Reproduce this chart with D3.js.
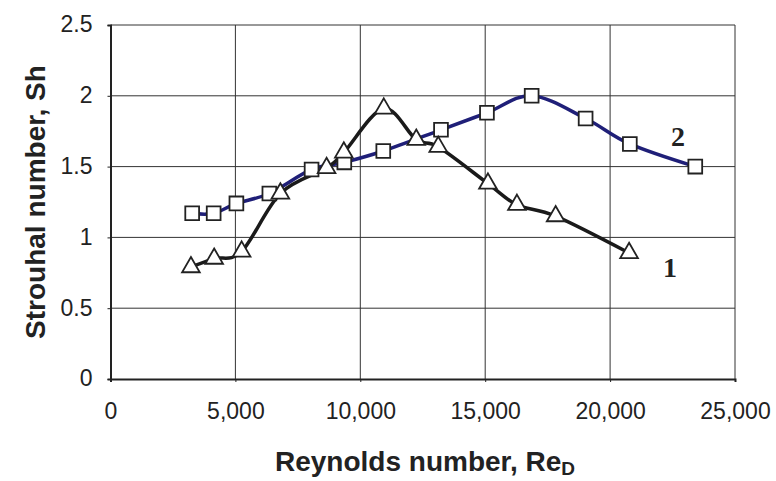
<!DOCTYPE html>
<html>
<head>
<meta charset="utf-8">
<script src="https://cdn.jsdelivr.net/npm/d3@7"></script>
<style>
  body { margin: 0; background: #fff; }
  svg { display: block; }
</style>
</head>
<body>
<div id="chart"></div>
<script>
// series 1 (triangles) and series 2 (squares)
const re1 = [3220, 4150, 5250, 6800, 8650, 9340, 10940, 12240, 13120, 15110, 16270, 17820, 20760];
const sh1 = [0.79, 0.85, 0.90, 1.31, 1.49, 1.60, 1.91, 1.69, 1.64, 1.38, 1.23, 1.15, 0.89];
const re2 = [3270, 4130, 5040, 6360, 8050, 9360, 10920, 13230, 15070, 16860, 19020, 20790, 23410];
const sh2 = [1.17, 1.17, 1.24, 1.31, 1.48, 1.53, 1.61, 1.76, 1.88, 2.00, 1.84, 1.66, 1.50];
const xTicks = [0, 5000, 10000, 15000, 20000, 25000];
const yTicks = [0, 0.5, 1, 1.5, 2, 2.5];

const width = 776, height = 481;
const margin = { top: 25, right: 41, bottom: 102, left: 110.5 };

const svg = d3.select('#chart')
  .append('svg')
  .attr('width', width)
  .attr('height', height);

const x = d3.scaleLinear().domain([0, 25000]).range([margin.left, width - margin.right]);
const y = d3.scaleLinear().domain([0, 2.5]).range([height - margin.bottom, margin.top]);

// grid
svg.append('g')
  .selectAll('line')
  .data(xTicks.slice(1))
  .join('line')
  .attr('x1', d => x(d)).attr('x2', d => x(d))
  .attr('y1', y(0)).attr('y2', y(2.5))
  .attr('stroke', '#333').attr('stroke-width', 1);

svg.append('g')
  .selectAll('line')
  .data(yTicks.slice(1))
  .join('line')
  .attr('x1', x(0)).attr('x2', x(25000))
  .attr('y1', d => y(d)).attr('y2', d => y(d))
  .attr('stroke', '#333').attr('stroke-width', 1);

// axes
const fmt = d3.format(',');
const xAxis = svg.append('g')
  .attr('transform', `translate(0,${y(0)})`)
  .call(d3.axisBottom(x).tickValues(xTicks).tickFormat(fmt).tickSize(3).tickPadding(21));
const yAxis = svg.append('g')
  .attr('transform', `translate(${x(0)},0)`)
  .call(d3.axisLeft(y).tickValues(yTicks).tickFormat(d3.format('')).tickSize(3).tickPadding(15));

[xAxis, yAxis].forEach(g => {
  g.select('.domain').attr('stroke', '#222').attr('stroke-width', 2);
  g.selectAll('.tick line').attr('stroke', '#222');
  g.selectAll('.tick text')
    .attr('fill', '#222')
    .style('font-family', 'Liberation Sans, Arial, sans-serif')
    .style('font-size', '23px');
});
yAxis.selectAll('.tick text').attr('dy', '0.3em');

// lines
const line = d3.line()
  .x(d => x(d[0]))
  .y(d => y(d[1]))
  .curve(d3.curveCardinal.tension(0));

const pts1 = re1.map((r, i) => [r, sh1[i]]);
const pts2 = re2.map((r, i) => [r, sh2[i]]);

svg.append('path')
  .datum(pts2)
  .attr('d', line)
  .attr('fill', 'none')
  .attr('stroke', '#1f1f78')
  .attr('stroke-width', 3.5);

svg.append('path')
  .datum(pts1)
  .attr('d', line)
  .attr('fill', 'none')
  .attr('stroke', '#1a1a1a')
  .attr('stroke-width', 3.5);

// markers
svg.append('g')
  .selectAll('path')
  .data(pts2)
  .join('path')
  .attr('transform', d => `translate(${x(d[0])},${y(d[1])})`)
  .attr('d', d3.symbol(d3.symbolSquare, 190))
  .attr('fill', '#fff')
  .attr('stroke', '#222')
  .attr('stroke-width', 1.8);

svg.append('g')
  .selectAll('path')
  .data(pts1)
  .join('path')
  .attr('transform', d => `translate(${x(d[0])},${y(d[1])})`)
  .attr('d', d3.symbol(d3.symbolTriangle, 135))
  .attr('fill', '#fff')
  .attr('stroke', '#222')
  .attr('stroke-width', 1.8);

// series labels
svg.append('text')
  .attr('x', 678).attr('y', 146)
  .attr('text-anchor', 'middle')
  .style('font-family', 'Liberation Serif, Times New Roman, serif')
  .style('font-weight', 'bold')
  .style('font-size', '28px')
  .attr('fill', '#222')
  .text('2');

svg.append('text')
  .attr('x', 670).attr('y', 277)
  .attr('text-anchor', 'middle')
  .style('font-family', 'Liberation Serif, Times New Roman, serif')
  .style('font-weight', 'bold')
  .style('font-size', '28px')
  .attr('fill', '#222')
  .text('1');

// axis titles
const xt = svg.append('text')
  .attr('x', 425).attr('y', 471)
  .attr('text-anchor', 'middle')
  .style('font-family', 'Liberation Sans, Arial, sans-serif')
  .style('font-weight', 'bold')
  .style('font-size', '28px')
  .attr('fill', '#222');
xt.append('tspan').text('Reynolds number, Re');
xt.append('tspan').attr('dy', 4).style('font-size', '19px').text('D');

svg.append('text')
  .attr('transform', 'translate(45,202) rotate(-90)')
  .attr('text-anchor', 'middle')
  .style('font-family', 'Liberation Sans, Arial, sans-serif')
  .style('font-weight', 'bold')
  .style('font-size', '28px')
  .attr('fill', '#222')
  .text('Strouhal number, Sh');
</script>
</body>
</html>
